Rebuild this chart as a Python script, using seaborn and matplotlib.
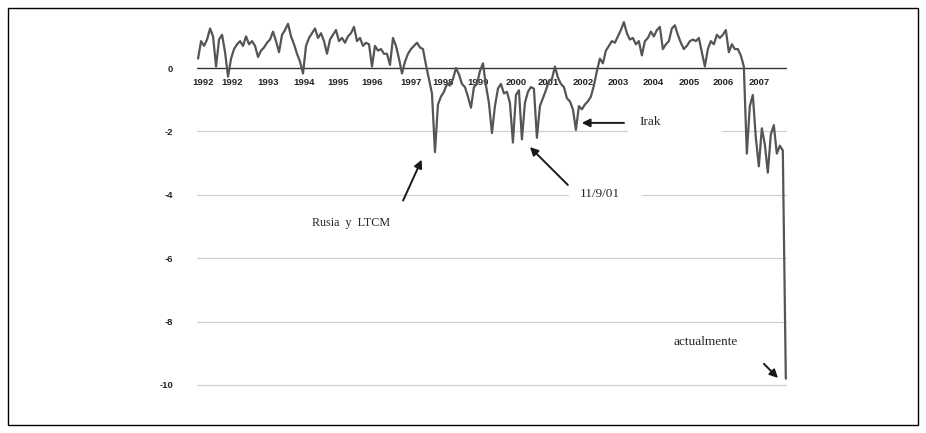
import numpy as np
import pandas as pd
import matplotlib
matplotlib.use("Agg")
import matplotlib.pyplot as plt
from matplotlib.patches import Rectangle
import seaborn as sns

# Serie semanal (1992 - fin 2007)
valores = [
    0.3, 0.85, 0.7, 0.9, 1.25, 1.0, 0.05, 0.9, 1.05, 0.5, -0.27, 0.3, 0.6, 0.75, 0.85, 0.7, 1.0,
    0.75, 0.85, 0.7, 0.35, 0.55, 0.65, 0.8, 0.9, 1.15, 0.85, 0.5, 1.05, 1.2, 1.4, 1.0, 0.75, 0.45,
    0.2, -0.17, 0.7, 0.95, 1.1, 1.25, 0.95, 1.1, 0.85, 0.45, 0.9, 1.05, 1.2, 0.85, 0.95, 0.8, 1.0,
    1.1, 1.3, 0.85, 0.95, 0.7, 0.8, 0.75, 0.05, 0.7, 0.55, 0.6, 0.45, 0.45, 0.1, 0.95, 0.7, 0.3, -0.17,
    0.2, 0.45, 0.6, 0.7, 0.8, 0.65, 0.6, 0.1, -0.35, -0.8, -2.65, -1.15, -0.9, -0.75, -0.5, -0.55,
    -0.35, 0.0, -0.2, -0.5, -0.6, -0.9, -1.25, -0.6, -0.5, -0.1, 0.15, -0.55, -1.1, -2.05, -1.2,
    -0.65, -0.5, -0.8,
    -0.75, -1.1, -2.35, -0.85, -0.7, -2.25, -1.1, -0.75, -0.6, -0.65, -2.2, -1.2, -0.95, -0.7, -0.4,
    -0.35, 0.05, -0.3, -0.5, -0.6, -0.95, -1.05, -1.3, -1.95, -1.2, -1.3, -1.15, -1.05, -0.9, -0.55,
    -0.1, 0.3,
    0.15, 0.55, 0.7, 0.85, 0.8, 1.0, 1.2, 1.45, 1.1, 0.9, 0.95, 0.75, 0.85, 0.4, 0.85, 0.95, 1.15,
    1.0, 1.2, 1.3, 0.6, 0.75, 0.85, 1.25, 1.35, 1.05, 0.8, 0.6, 0.7, 0.85, 0.9, 0.85, 0.95, 0.5,
    0.05, 0.6, 0.85, 0.75, 1.05, 0.95, 1.05, 1.2, 0.5, 0.75, 0.6, 0.6, 0.4, 0.05, -2.7, -1.2, -0.85,
    -2.2, -3.1, -1.9, -2.4, -3.3, -2.1, -1.8, -2.7, -2.45, -2.6, -9.8,
]
fechas = np.linspace(1992.0, 2008.0, len(valores))

anios_etiqueta = ["1992", "1992", "1993", "1994", "1995", "1996", "1997", "1998", "1999",
                  "2000", "2001", "2002", "2003", "2004", "2005", "2006", "2007"]
anios_pos = [1992.14, 1992.93, 1993.90, 1994.88, 1995.81, 1996.73, 1997.80, 1998.67, 1999.62,
             2000.65, 2001.52, 2002.48, 2003.43, 2004.38, 2005.36, 2006.31, 2007.27]
y_ticks = [0, -2, -4, -6, -8, -10]

df = pd.DataFrame({"fecha": fechas, "valor": valores})

sns.set_style("white")
plt.rcParams["font.family"] = ["Liberation Sans", "DejaVu Sans"]

fig = plt.figure(figsize=(9.26, 4.33), dpi=100)
ax = fig.add_axes([0.2127, 0.0889, 0.6371, 0.871])

# lineas de referencia
gris = "#cfcfcf"
ax.axhline(-2, xmin=0, xmax=0.729, color=gris, lw=0.9, zorder=1)
ax.axhline(-2, xmin=0.89, xmax=1, color=gris, lw=0.9, zorder=1)
ax.axhline(-4, xmin=0, xmax=0.629, color=gris, lw=0.9, zorder=1)
ax.axhline(-4, xmin=0.754, xmax=1, color=gris, lw=0.9, zorder=1)
for v in [-6, -8, -10]:
    ax.axhline(v, color=gris, lw=0.9, zorder=1)
ax.axhline(0, color="#333333", lw=1.0, zorder=2)

sns.lineplot(data=df, x="fecha", y="valor", ax=ax, color="#555555", lw=1.6, zorder=4)

ax.set_xlim(1991.97, 2008.03)
ax.set_ylim(-10.3, 1.6)
ax.set_xticks([])
ax.set_yticks(y_ticks)
ax.set_yticklabels([str(t) for t in y_ticks], fontsize=6.8, fontweight="bold")
ax.tick_params(axis="y", length=0, pad=17)
ax.set_xlabel("")
ax.set_ylabel("")
for s in ax.spines.values():
    s.set_visible(False)

# etiquetas de anios bajo la linea de cero
for pos, lab in zip(anios_pos, anios_etiqueta):
    ax.text(pos, -0.47, lab, ha="center", va="center", fontsize=6.8, fontweight="bold",
            color="#222222", zorder=3)

serif = ["Liberation Serif", "DejaVu Serif"]
flecha = dict(arrowstyle="-|>", color="#1a1a1a", lw=1.4, mutation_scale=12)

# Irak
ax.annotate("", xy=(2002.37, -1.73), xytext=(2003.67, -1.73), arrowprops=flecha)
ax.text(2004.03, -1.70, "Irak", fontsize=9.5, family=serif, va="center", ha="left")
# 11/9/01
ax.annotate("", xy=(2000.98, -2.43), xytext=(2002.12, -3.75), arrowprops=flecha)
ax.text(2002.39, -3.97, "11/9/01", fontsize=9.5, family=serif, va="center", ha="left")
# Rusia y LTCM
ax.annotate("", xy=(1998.12, -2.81), xytext=(1997.55, -4.26), arrowprops=flecha)
ax.text(1997.22, -4.9, "Rusia  y  LTCM", fontsize=8.7, family=serif, va="center", ha="right")
# actualmente
ax.annotate("", xy=(2007.84, -9.84), xytext=(2007.35, -9.27), arrowprops=flecha)
ax.text(2005.82, -8.64, "actualmente", fontsize=9.5, family=serif, va="center", ha="center")

# marco de la figura
fig.patches.append(Rectangle((8 / 926, 1 - 425 / 433), 910 / 926, 417 / 433,
                             transform=fig.transFigure, fill=False, edgecolor="black", lw=1.0))

fig.savefig("out.png", dpi=100)
